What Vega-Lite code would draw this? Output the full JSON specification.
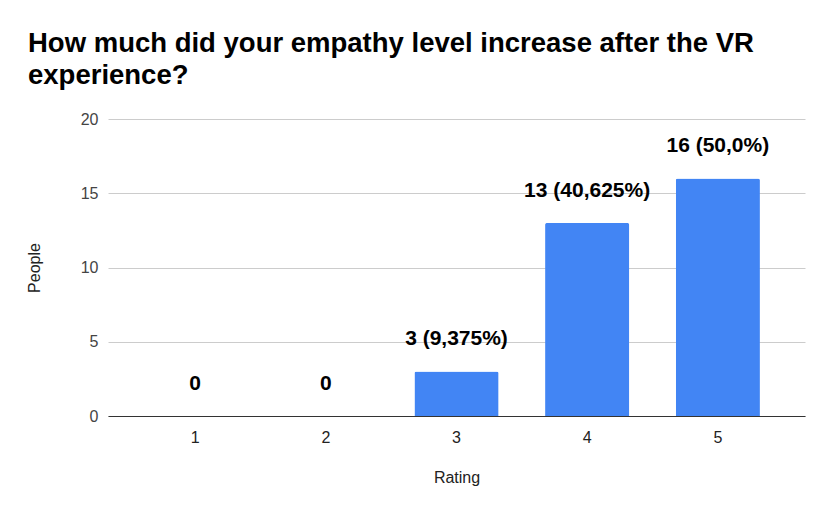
{
  "$schema": "https://vega.github.io/schema/vega-lite/v6.json",
  "width": 697,
  "height": 297,
  "autosize": {"type": "none"},
  "padding": {"left": 108, "top": 119, "right": 25, "bottom": 98},
  "background": "white",
  "title": {
    "text": ["How much did your empathy level increase after the VR", "experience?"],
    "anchor": "start",
    "frame": "group",
    "font": "Liberation Sans",
    "fontSize": 27.5,
    "fontWeight": "bold",
    "color": "#000000",
    "lineHeight": 32,
    "dx": -80,
    "offset": 22
  },
  "config": {
    "view": {"stroke": null},
    "font": "Liberation Sans"
  },
  "data": {
    "values": [
      {"rating": "1", "people": 0, "label": "0"},
      {"rating": "2", "people": 0, "label": "0"},
      {"rating": "3", "people": 3, "label": "3 (9,375%)"},
      {"rating": "4", "people": 13, "label": "13 (40,625%)"},
      {"rating": "5", "people": 16, "label": "16 (50,0%)"}
    ]
  },
  "encoding": {
    "x": {
      "field": "rating",
      "type": "nominal",
      "sort": null,
      "scale": {"paddingInner": 0.356, "paddingOuter": 0.345},
      "axis": {
        "title": "Rating",
        "titleFont": "Liberation Sans",
        "titleFontSize": 16,
        "titleFontWeight": "normal",
        "titleColor": "#222222",
        "titlePadding": 24,
        "labelAngle": 0,
        "labelFont": "Liberation Sans",
        "labelFontSize": 16,
        "labelColor": "#222222",
        "labelPadding": 13,
        "ticks": false,
        "domain": true,
        "domainColor": "#333333",
        "domainWidth": 1
      }
    },
    "y": {
      "field": "people",
      "type": "quantitative",
      "scale": {"domain": [0, 20], "nice": false},
      "axis": {
        "title": "People",
        "titleFont": "Liberation Sans",
        "titleFontSize": 16,
        "titleFontWeight": "normal",
        "titleColor": "#222222",
        "titlePadding": 38,
        "values": [0, 5, 10, 15, 20],
        "labelFont": "Liberation Sans",
        "labelFontSize": 16,
        "labelColor": "#444444",
        "labelPadding": 10,
        "ticks": false,
        "domain": false,
        "grid": true,
        "gridColor": "#cccccc",
        "gridWidth": 1
      }
    }
  },
  "layer": [
    {
      "mark": {"type": "bar", "color": "#4285F4", "cornerRadiusTopLeft": 2, "cornerRadiusTopRight": 2}
    },
    {
      "mark": {
        "type": "text",
        "baseline": "alphabetic",
        "dy": -26,
        "font": "Liberation Sans",
        "fontSize": 21,
        "fontWeight": "bold",
        "color": "#000000"
      },
      "encoding": {"text": {"field": "label"}}
    }
  ]
}
